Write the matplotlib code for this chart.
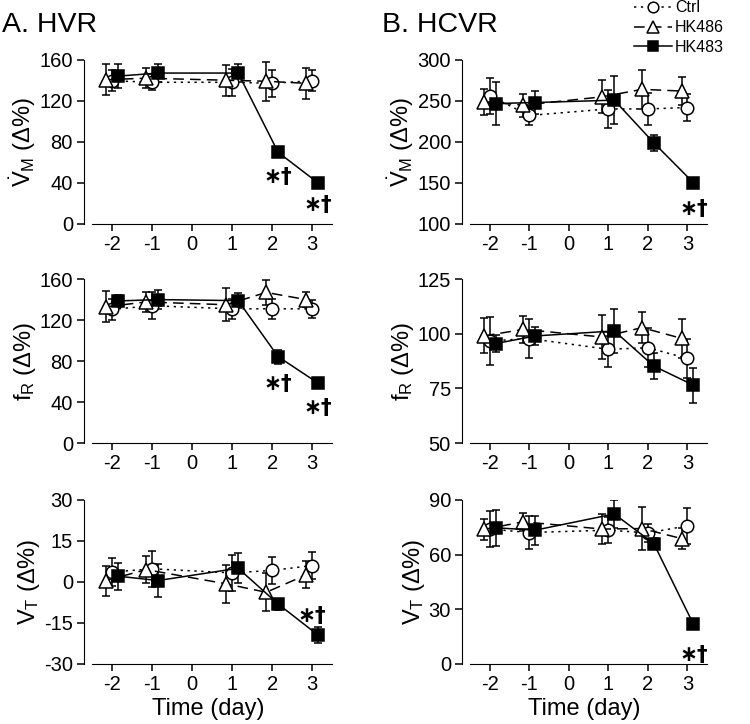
import matplotlib
matplotlib.use('Agg')
import matplotlib.pyplot as plt
from matplotlib.lines import Line2D
import numpy as np

plt.rcParams['font.family'] = ['Liberation Sans', 'DejaVu Sans']
plt.rcParams['mathtext.fontset'] = 'custom'
plt.rcParams['mathtext.rm'] = 'Liberation Sans'
plt.rcParams['mathtext.it'] = 'Liberation Sans'
plt.rcParams['axes.unicode_minus'] = False

days = [-2, -1, 1, 2, 3]
groups = ['Ctrl', 'HK486', 'HK483']

# HVR (column A)
hvr_vm = {'Ctrl': [139.5, 138, 138, 137, 139.5], 'HK486': [140.5, 142, 140, 139, 137], 'HK483': [144, 147, 147, 69.6, 39.7]}
hvr_vm_err = {'Ctrl': [10, 8, 13, 13, 10], 'HK486': [15, 10, 15, 19, 15], 'HK483': [12, 9, 9, 4, 2]}
hvr_fr = {'Ctrl': [130.5, 134, 131, 131, 131], 'HK486': [133, 137.7, 135, 147, 140], 'HK483': [138.7, 140, 139, 84.3, 58.4]}
hvr_fr_err = {'Ctrl': [10, 13, 10, 10, 9], 'HK486': [15, 10, 16, 12, 7], 'HK483': [6, 9, 7, 7, 5]}
hvr_vt = {'Ctrl': [3.6, 4.8, 3.3, 4.2, 6.0], 'HK486': [0.5, 4.5, -0.7, -3.8, 2.6], 'HK483': [2.1, 0.5, 5.0, -8.1, -19.5]}
hvr_vt_err = {'Ctrl': [5, 6.5, 6.5, 5, 5], 'HK486': [5.5, 5, 7, 7, 5], 'HK483': [5, 6, 5.5, 2, 3]}

# HCVR (column B)
hcvr_vm = {'Ctrl': [256, 232, 240, 240, 241.7], 'HK486': [248.7, 244.6, 254.8, 263.9, 261.8], 'HK483': [246.6, 247.8, 250.7, 198.6, 150]}
hcvr_vm_err = {'Ctrl': [22, 12, 23, 20, 17], 'HK486': [16, 14, 20, 24, 17], 'HK483': [26, 14, 29, 10, 6]}
hcvr_fr = {'Ctrl': [96.7, 97.8, 92.9, 93.6, 88.7], 'HK486': [99, 102, 98.5, 102.8, 97.9], 'HK483': [95.5, 99, 101.3, 85.2, 76.5]}
hcvr_fr_err = {'Ctrl': [11, 9, 8, 9, 9], 'HK486': [8, 6, 10, 7, 9], 'HK483': [4, 4, 10, 6, 8]}
hcvr_vt = {'Ctrl': [74, 72.1, 73.4, 71.9, 75.8], 'HK486': [73.8, 78, 74, 74.3, 68.8], 'HK483': [74.7, 73.4, 82.3, 66, 21.8]}
hcvr_vt_err = {'Ctrl': [10, 9, 7, 5, 10], 'HK486': [6, 5, 8, 12, 6], 'HK483': [10, 8, 7.5, 3, 2]}

styles = {
    'Ctrl': dict(marker='o', ls=(0, (1.5, 3)), mfc='white', offset=0.0, ms=9),
    'HK486': dict(marker='^', ls=(0, (7, 4)), mfc='white', offset=-0.15, ms=10),
    'HK483': dict(marker='s', ls='-', mfc='black', offset=0.15, ms=9),
}

panels = [
    # (data, err, yticks, ylabel, column, row, stars [(day, y_offset_pts)])
    (hvr_vm, hvr_vm_err, [0, 40, 80, 120, 160], r'$\dot{\mathrm{V}}_{\mathrm{M}}$ ($\Delta$%)', 0, 0, [(2, -18), (3, -16)]),
    (hcvr_vm, hcvr_vm_err, [100, 150, 200, 250, 300], r'$\dot{\mathrm{V}}_{\mathrm{M}}$ ($\Delta$%)', 1, 0, [(3, -19)]),
    (hvr_fr, hvr_fr_err, [0, 40, 80, 120, 160], r'f$_{\mathrm{R}}$ ($\Delta$%)', 0, 1, [(2, -20), (3, -18)]),
    (hcvr_fr, hcvr_fr_err, [50, 75, 100, 125], r'f$_{\mathrm{R}}$ ($\Delta$%)', 1, 1, []),
    (hvr_vt, hvr_vt_err, [-30, -15, 0, 15, 30], r'V$_{\mathrm{T}}$ ($\Delta$%)', 0, 2, [(3, 14)]),
    (hcvr_vt, hcvr_vt_err, [0, 30, 60, 90], r'V$_{\mathrm{T}}$ ($\Delta$%)', 1, 2, [(3, -22)]),
]

fig = plt.figure(figsize=(7.5, 7.24), dpi=100)
lefts = [0.112, 0.616]
widths = [0.331, 0.327]
bottoms = [0.691, 0.388, 0.083]
height = 0.2265

for data, err, yticks, ylabel, col, row, stars in panels:
    ax = fig.add_axes([lefts[col], bottoms[row], widths[col], height])
    for g in groups:
        st = styles[g]
        x = np.array(days) + st['offset']
        ax.errorbar(x, data[g], yerr=err[g], color='black', ls=st['ls'], lw=1.1,
                    marker=st['marker'], mfc=st['mfc'], mec='black', ms=st['ms'],
                    mew=1.1, capsize=3.2, elinewidth=1.1, capthick=1.1)
    for d, off in stars:
        i = days.index(d)
        xs = d + (0.15 if off < 0 else 0.0)
        ax.annotate('∗†', (xs, data['HK483'][i]), xytext=(0, off), textcoords='offset points',
                    ha='center', va='center', fontsize=15.5, fontweight='bold',
                    family=['DejaVu Sans'])
    ax.set_ylim(yticks[0], yticks[-1])
    ax.set_yticks(yticks)
    ax.set_xlim(-2.7, 3.5)
    ax.set_xticks([-2, -1, 0, 1, 2, 3])
    ax.spines['top'].set_visible(False)
    ax.spines['right'].set_visible(False)
    ax.spines['bottom'].set_bounds(-2.5, 3.5)
    ax.tick_params(labelsize=14.5, length=5, width=1.1, direction='out', pad=3)
    ax.set_ylabel(ylabel, fontsize=17, labelpad=1)
    if row == 2:
        ax.set_xlabel('Time (day)', fontsize=17, labelpad=3)

fig.text(0.002, 0.966, 'A. HVR', fontsize=20.5, va='center', ha='left')
fig.text(0.510, 0.966, 'B. HCVR', fontsize=20.5, va='center', ha='left')

handles = [Line2D([], [], color='black', ls=styles[g]['ls'], lw=1.1, marker=styles[g]['marker'],
                  mfc=styles[g]['mfc'], mec='black', ms=styles[g]['ms'] * 0.85, mew=1.1) for g in groups]
fig.legend(handles, groups, loc='upper left', bbox_to_anchor=(0.83, 1.015), frameon=False,
           fontsize=11.5, handlelength=2.4, handletextpad=0.2, labelspacing=0.3,
           borderpad=0.2)

fig.savefig('out.png', dpi=100)
